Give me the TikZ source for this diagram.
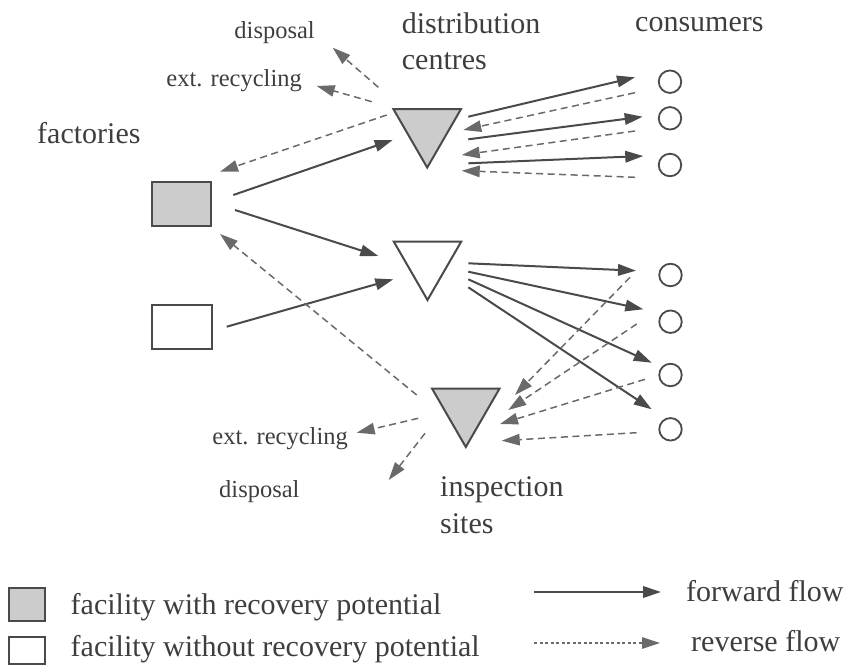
\documentclass[tikz,border=0pt]{standalone}
\usepackage{fontspec}
\setmainfont{Liberation Serif}
\usetikzlibrary{arrows.meta,shapes.geometric}
\definecolor{ink}{HTML}{3E3E3E}
\definecolor{edge}{HTML}{4A4A4A}
\definecolor{revc}{HTML}{6A6A6A}
\definecolor{shade}{HTML}{CCCCCC}
\begin{document}
\begin{tikzpicture}[x=1pt,y=-1pt,
  big/.style={font=\fontsize{30}{36}\selectfont, text=ink, inner sep=0pt},
  small/.style={font=\fontsize{24.5}{30}\selectfont, text=ink, inner sep=0pt},
  plant/.style={draw=edge, line width=2pt, rectangle, inner sep=0pt,
                minimum width=59.6pt, minimum height=44pt},
  hub/.style={draw=edge, line width=2pt, regular polygon, regular polygon sides=3,
              shape border rotate=180, inner sep=0pt, minimum size=78pt},
  client/.style={draw=edge, line width=1.8pt, circle, inner sep=0pt, minimum size=22.5pt},
  recov/.style={fill=shade},
  fwd/.style={draw=edge, line width=2pt, -{Triangle[length=18pt,width=11.5pt]}},
  rev/.style={draw=revc, line width=1.5pt, dash pattern=on 7pt off 4.5pt,
              -{Triangle[length=18pt,width=11.5pt]}},
]
\useasboundingbox (0,0) rectangle (846,666);

% labels
\node[small, anchor=base east] (dispTop) at (315,39) {disposal};
\node[small, anchor=base east] (recTop) at (302,87) {ext. recycling};
\node[big, anchor=base west] (facLbl) at (37,143) {factories};
\node[big, anchor=base west] (dcA) at (401.7,33.3) {distribution};
\node[big, anchor=base west] (dcB) at (401.7,70) {centres};
\node[big, anchor=base west] (cons) at (635,31.7) {consumers};
\node[big, anchor=base west] (isA) at (440,496) {inspection};
\node[big, anchor=base west] (isB) at (440,533) {sites};
\node[small, anchor=base east] (recBot) at (348,444) {ext. recycling};
\node[small, anchor=base west] (dispBot) at (219,497) {disposal};

% facilities
\node[plant, recov] (f1) at (181.5,203.7) {};
\node[plant] (f2) at (181.7,327.3) {};
\node[hub, recov] (dc1) at (427.2,128.6) {};
\node[hub] (dc2) at (427.5,261) {};
\node[hub, recov] (is) at (465.8,408) {};
\node[client] (c1) at (670,81.7) {};
\node[client] (c2) at (670,118.3) {};
\node[client] (c3) at (670,165) {};
\node[client] (c4) at (670.5,275) {};
\node[client] (c5) at (670.5,321.7) {};
\node[client] (c6) at (670.5,375) {};
\node[client] (c7) at (670.5,429.3) {};

% forward flows
\draw[fwd] ([shift={(51.8,-8.7)}]f1.center) -- ([shift={(-34.5,11.4)}]dc1.center);
\draw[fwd] ([shift={(53.5,6.3)}]f1.center) -- ([shift={(-49.2,-5)}]dc2.center);
\draw[fwd] ([shift={(45,-0.6)}]f2.center) -- ([shift={(-34.2,18.3)}]dc2.center);
\draw[fwd] ([shift={(41.1,-11.9)}]dc1.center) -- ([shift={(-35,-4.4)}]c1.center);
\draw[fwd] ([shift={(41.1,10.7)}]dc1.center) -- ([shift={(-27.3,-1.6)}]c2.center);
\draw[fwd] ([shift={(41.1,34.7)}]dc1.center) -- ([shift={(-26.7,-9)}]c3.center);
\draw[fwd] ([shift={(40.8,2.3)}]dc2.center) -- ([shift={(-34.5,-4.3)}]c4.center);
\draw[fwd] ([shift={(40.8,10.7)}]dc2.center) -- ([shift={(-27.2,-12.4)}]c5.center);
\draw[fwd] ([shift={(40.8,18.3)}]dc2.center) -- ([shift={(-18.8,-12.3)}]c6.center);
\draw[fwd] ([shift={(40.8,26.3)}]dc2.center) -- ([shift={(-18.8,-20)}]c7.center);

% reverse flows
\draw[rev] ([shift={(-35,11)}]c1.center) -- ([shift={(36.1,1.4)}]dc1.center);
\draw[rev] ([shift={(-35,12.7)}]c2.center) -- ([shift={(34.5,26.4)}]dc1.center);
\draw[rev] ([shift={(-35,12.3)}]c3.center) -- ([shift={(34.5,42.1)}]dc1.center);
\draw[rev] ([shift={(-40.5,2.3)}]c4.center) -- ([shift={(49.2,-13)}]is.center);
\draw[rev] ([shift={(-33.8,2.3)}]c5.center) -- ([shift={(42.5,2)}]is.center);
\draw[rev] ([shift={(-25.5,4.3)}]c6.center) -- ([shift={(34.2,16)}]is.center);
\draw[rev] ([shift={(-33.8,3.4)}]c7.center) -- ([shift={(35.9,32.7)}]is.center);
\draw[rev] ([shift={(-40.5,-13.6)}]dc1.center) -- ([shift={(38.5,-32)}]f1.center);
\draw[rev] ([shift={(-48.9,-41.3)}]dc1.center) -- ([shift={(17.7,8.7)}]dispTop.base east);
\draw[rev] ([shift={(-55.5,-26.9)}]dc1.center) -- ([shift={(14.7,-1)}]recTop.base east);
\draw[rev] ([shift={(-49.1,-13)}]is.center) -- ([shift={(38.5,30.3)}]f1.center);
\draw[rev] ([shift={(-47.5,10.3)}]is.center) -- ([shift={(8.7,-11.3)}]recBot.base east);
\draw[rev] ([shift={(-40.8,25.3)}]is.center) -- ([shift={(89,-17)}]dispBot.base east);

% legend
\node[plant, recov, minimum width=36pt, minimum height=33pt] (keyA) at (27,604.5) {};
\node[plant, minimum width=36pt, minimum height=27pt] (keyB) at (27,650) {};
\node[big, anchor=base west] (keyAtxt) at (70.5,614) {facility with recovery potential};
\node[big, anchor=base west] (keyBtxt) at (70.5,656) {facility without recovery potential};
\coordinate (fwdA) at (534,592);
\coordinate (fwdB) at (661,592);
\coordinate (revA) at (534,643);
\coordinate (revB) at (660,643);
\draw[fwd] (fwdA) -- (fwdB);
\draw[rev, line width=1.2pt, dash pattern=on 3pt off 2.5pt] (revA) -- (revB);
\node[big, anchor=base west] (fwdTxt) at (686,601) {forward flow};
\node[big, anchor=base west] (revTxt) at (691,651) {reverse flow};
\end{tikzpicture}
\end{document}
